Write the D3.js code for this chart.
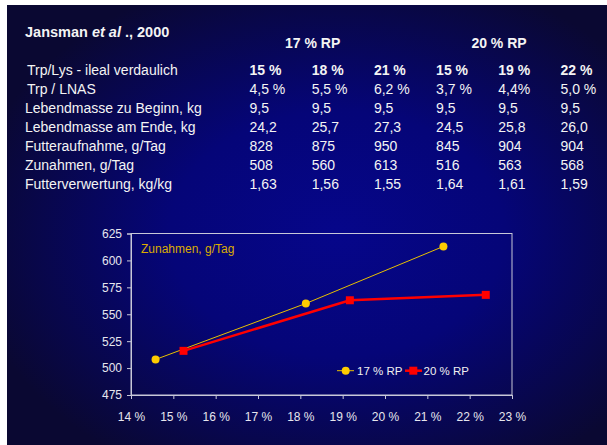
<!DOCTYPE html>
<html>
<head>
<meta charset="utf-8">
<script src="https://cdn.jsdelivr.net/npm/d3@7"></script>
<style>
  body { margin: 0; background: #ffffff; }
  svg { display: block; }
  text { font-family: "Liberation Sans", Arial, Helvetica, sans-serif; }
</style>
</head>
<body>
<svg id="chart" width="607" height="445"></svg>
<script>
// ---- table data ----
const studyTitle = "Jansman";
const groupHeaders = ["17 % RP", "20 % RP"];
const trpLysLabel = "Trp/Lys - ileal verdaulich";
const trpLysLevels = ["15 %", "18 %", "21 %", "15 %", "19 %", "22 %"];
const rowLabels = [
  "Trp / LNAS",
  "Lebendmasse zu Beginn, kg",
  "Lebendmasse am Ende, kg",
  "Futteraufnahme, g/Tag",
  "Zunahmen, g/Tag",
  "Futterverwertung, kg/kg"
];
const trpLnas     = ["4,5 %", "5,5 %", "6,2 %", "3,7 %", "4,4%", "5,0 %"];
const startWeight = ["9,5", "9,5", "9,5", "9,5", "9,5", "9,5"];
const endWeight   = ["24,2", "25,7", "27,3", "24,5", "25,8", "26,0"];
const feedIntake  = ["828", "875", "950", "845", "904", "904"];
const dailyGain   = ["508", "560", "613", "516", "563", "568"];
const feedConv    = ["1,63", "1,56", "1,55", "1,64", "1,61", "1,59"];
const rowValues = [trpLnas, startWeight, endWeight, feedIntake, dailyGain, feedConv];

// ---- chart data: daily gain vs. analysed Trp/Lys ratio ----
const series17 = { name: "17 % RP", trp: [14.58, 18.13, 21.38], gain: [508, 560, 613] };
const series20 = { name: "20 % RP", trp: [15.24, 19.17, 22.38], gain: [516, 563, 568] };
const xTicks = [14, 15, 16, 17, 18, 19, 20, 21, 22, 23];
const yTicks = [475, 500, 525, 550, 575, 600, 625];
const chartLabel = "Zunahmen, g/Tag";

const svg = d3.select("#chart");

// background
const defs = svg.append("defs");
const grad = defs.append("radialGradient")
  .attr("id", "bg")
  .attr("cx", 0.55).attr("cy", 0.52).attr("r", 0.62);
grad.append("stop").attr("offset", "0%").attr("stop-color", "#06068a");
grad.append("stop").attr("offset", "45%").attr("stop-color", "#050578");
grad.append("stop").attr("offset", "100%").attr("stop-color", "#0a0832");
svg.append("rect").attr("x", 7).attr("y", 5).attr("width", 600).attr("height", 440)
  .attr("fill", "url(#bg)");

// ---- table ----
const txt = "#f4f4f4";
const colX = d3.range(6).map(i => 249.5 + 62.2 * i);
const rowY = d3.range(7).map(i => 74.5 + 19 * i);

const title = svg.append("text").attr("x", 25).attr("y", 37)
  .attr("fill", txt).attr("font-size", 14.5).attr("font-weight", "bold");
title.append("tspan").text(studyTitle + " ");
title.append("tspan").attr("font-style", "italic").text("et al");
title.append("tspan").text(" ., 2000");

svg.selectAll("text.grp").data(groupHeaders).join("text")
  .attr("class", "grp")
  .attr("x", (d, i) => [312.7, 499][i]).attr("y", 48.3)
  .attr("text-anchor", "middle")
  .attr("fill", txt).attr("font-size", 14).attr("font-weight", "bold")
  .text(d => d);

svg.append("text").attr("x", 27).attr("y", rowY[0])
  .attr("fill", txt).attr("font-size", 14).text(trpLysLabel);
svg.selectAll("text.lvl").data(trpLysLevels).join("text")
  .attr("class", "lvl")
  .attr("x", (d, i) => colX[i]).attr("y", rowY[0])
  .attr("fill", txt).attr("font-size", 14).attr("font-weight", "bold")
  .text(d => d);

rowLabels.forEach((lab, r) => {
  const y = rowY[r + 1];
  svg.append("text").attr("x", r === 0 ? 27 : 25).attr("y", y)
    .attr("fill", txt).attr("font-size", 14).text(lab);
  svg.append("g").selectAll("text").data(rowValues[r]).join("text")
    .attr("x", (d, i) => colX[i]).attr("y", y)
    .attr("fill", txt).attr("font-size", 14)
    .text(d => d);
});

// ---- line chart ----
const x = d3.scaleLinear().domain([14, 23]).range([131, 512]);
const y = d3.scaleLinear().domain([475, 625]).range([395, 233.5]);
const axisCol = "#c8c8d8";

svg.append("rect")
  .attr("x", x(14)).attr("y", y(625))
  .attr("width", x(23) - x(14)).attr("height", y(475) - y(625))
  .attr("fill", "none").attr("stroke", axisCol).attr("stroke-width", 1);

const gx = svg.append("g").attr("transform", `translate(0,${y(475)})`)
  .call(d3.axisBottom(x).tickValues(xTicks).tickSize(4).tickPadding(13)
    .tickFormat(d => d + " %"));
const gy = svg.append("g").attr("transform", `translate(${x(14)},0)`)
  .call(d3.axisLeft(y).tickValues(yTicks).tickSize(4).tickPadding(5));
[gx, gy].forEach(g => {
  g.select(".domain").attr("stroke", axisCol);
  g.selectAll(".tick line").attr("stroke", axisCol);
  g.selectAll(".tick text").attr("fill", "#e6e6ee").attr("font-size", 12)
    .attr("font-family", "\"Liberation Sans\", Arial, sans-serif");
});

svg.append("text").attr("x", 141).attr("y", 253)
  .attr("fill", "#dcac00").attr("font-size", 12).text(chartLabel);

const pts17 = series17.trp.map((t, i) => [t, series17.gain[i]]);
const pts20 = series20.trp.map((t, i) => [t, series20.gain[i]]);
const line = d3.line().x(d => x(d[0])).y(d => y(d[1]));

svg.append("path").attr("d", line(pts17))
  .attr("fill", "none").attr("stroke", "#e8c000").attr("stroke-width", 1);
svg.append("path").attr("d", line(pts20))
  .attr("fill", "none").attr("stroke", "#ff0000").attr("stroke-width", 2.5);

svg.selectAll("circle.p17").data(pts17).join("circle")
  .attr("class", "p17")
  .attr("cx", d => x(d[0])).attr("cy", d => y(d[1])).attr("r", 4)
  .attr("fill", "#ffcc00");
svg.selectAll("rect.p20").data(pts20).join("rect")
  .attr("class", "p20")
  .attr("x", d => x(d[0]) - 4).attr("y", d => y(d[1]) - 4)
  .attr("width", 8).attr("height", 8)
  .attr("fill", "#ff0000");

// legend
const lg = svg.append("g");
const legY = 370.7;
lg.append("line").attr("x1", 337).attr("x2", 354).attr("y1", legY).attr("y2", legY)
  .attr("stroke", "#e8c000").attr("stroke-width", 1);
lg.append("circle").attr("cx", 345.7).attr("cy", legY).attr("r", 4).attr("fill", "#ffcc00");
lg.append("text").attr("x", 357).attr("y", legY + 4.3)
  .attr("fill", "#f0f0f0").attr("font-size", 11.5).text(series17.name);
lg.append("line").attr("x1", 405).attr("x2", 422).attr("y1", legY).attr("y2", legY)
  .attr("stroke", "#ff0000").attr("stroke-width", 2.5);
lg.append("rect").attr("x", 409.3).attr("y", legY - 4).attr("width", 8).attr("height", 8)
  .attr("fill", "#ff0000");
lg.append("text").attr("x", 423.5).attr("y", legY + 4.3)
  .attr("fill", "#f0f0f0").attr("font-size", 11.5).text(series20.name);
</script>
</body>
</html>
